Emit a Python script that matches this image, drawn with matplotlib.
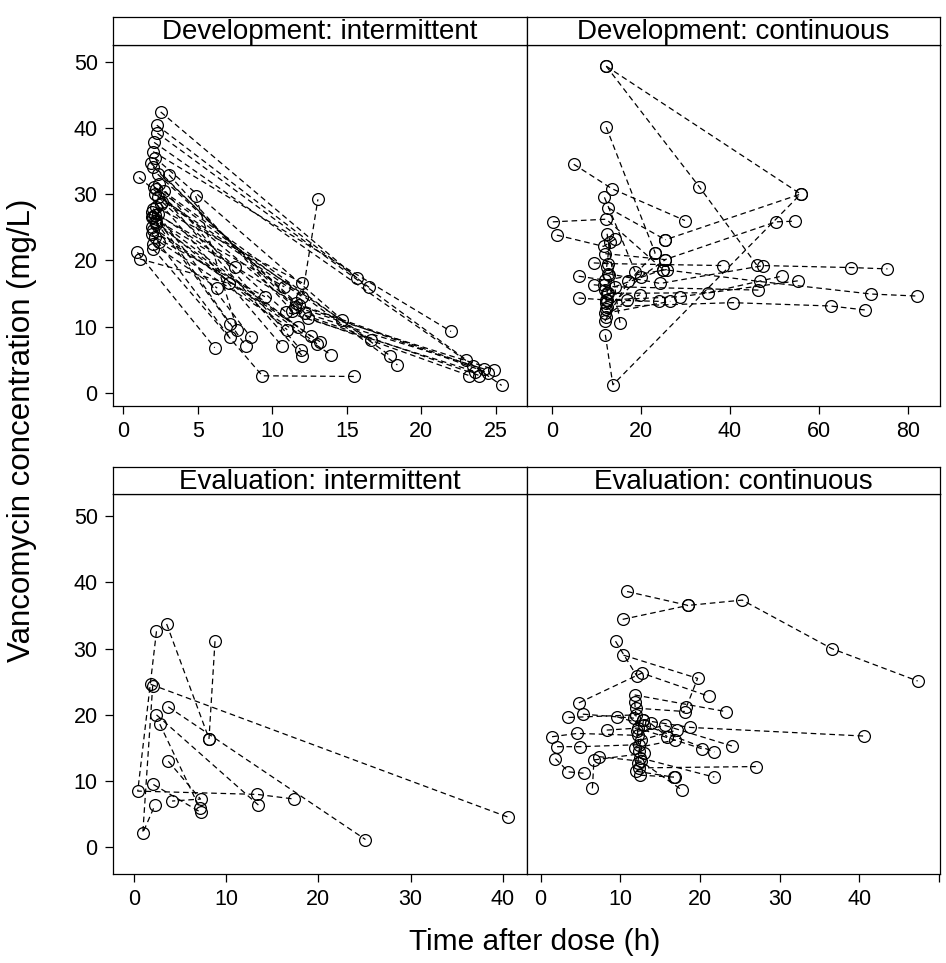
import matplotlib as mpl
import matplotlib.pyplot as plt

mpl.rcParams['font.family'] = ['Liberation Sans', 'DejaVu Sans']
mpl.rcParams['axes.linewidth'] = 0.9
mpl.rcParams['xtick.labelsize'] = 15.5
mpl.rcParams['ytick.labelsize'] = 15.5

# Development: intermittent  (one list per subject)
dev_int_time = [
    [2.5, 15.7], [2.24, 16.5], [2.28, 23.0], [2.06, 25.4], [2.0, 22.0], [2.1, 14.7],
    [1.83, 11.5, 24.9], [2.0, 12.2, 24.2], [3.06, 11.3, 23.9], [1.05, 12.4, 23.2],
    [2.06, 18.4], [2.7, 17.9], [2.1, 16.6], [2.3, 12.0, 13.06], [4.85, 7.65],
    [2.2, 12.0], [1.9, 10.8], [2.3, 7.47], [2.0, 11.7], [2.1, 11.0], [2.2, 12.6],
    [1.95, 13.0], [2.0, 13.2], [2.1, 9.5], [2.0, 6.3], [2.0, 9.33, 15.5],
    [0.94, 6.13], [1.1, 7.1], [2.4, 11.9], [2.2, 12.0], [2.5, 10.67], [2.0, 8.54],
    [2.1, 8.2], [2.2, 7.13], [1.9, 7.13], [2.4, 13.96], [2.3, 11.8, 24.5],
    [2.6, 10.9, 23.6], [1.9, 11.6, 23.5],
]
dev_int_conc = [
    [42.4, 17.3], [40.4, 15.9], [39.2, 5.0], [37.8, 1.1], [36.4, 9.25], [35.5, 11.0],
    [34.7, 13.0, 3.5], [34.1, 12.0, 3.6], [32.9, 12.4, 2.6], [32.5, 11.3, 2.6],
    [31.1, 4.2], [30.4, 5.6], [30.0, 8.0], [29.5, 14.5, 29.2], [29.7, 9.5],
    [28.0, 16.6], [27.3, 16.0], [27.0, 19.0], [26.5, 10.0], [26.0, 9.5], [25.5, 8.5],
    [25.0, 7.4], [24.5, 7.7], [23.5, 14.5], [22.4, 15.8], [21.7, 2.56, 2.46],
    [21.2, 6.8], [20.2, 16.5], [31.5, 6.5], [30.8, 5.6], [28.5, 7.0], [27.8, 8.4],
    [26.8, 7.1], [25.8, 10.4], [24.0, 8.4], [22.8, 5.7], [33.0, 13.2, 3.0],
    [28.8, 12.2, 3.2], [26.5, 13.5, 4.0],
]

# Development: continuous
dev_cont_time = [
    [12.2, 33.1, 46.0], [12.2, 55.9, 25.5], [12.0, 13.7, 55.9], [12.2, 23.2],
    [4.9, 13.5, 29.9], [11.8, 18.7], [12.7, 25.5], [0.2, 12.2, 25.0],
    [1.1, 11.6, 14.2], [12.4, 15.3], [6.0, 12.0, 25.8], [6.0, 12.3, 24.0],
    [9.4, 12.5, 38.5], [9.4, 14.2, 46.4], [12.0, 25.4, 50.3, 54.6],
    [12.5, 24.3, 47.5, 67.3, 75.4], [12.0, 25.0, 46.7, 71.8, 82.0],
    [12.3, 40.6, 62.6, 70.3], [12.1, 28.8, 55.3], [12.4, 35.1, 51.6],
    [12.0, 26.6], [11.9, 17.2, 23.2], [12.1, 16.9, 19.8], [12.2, 20.0, 25.5],
    [12.3, 13.0], [11.8, 12.5], [12.1, 12.9],
]
dev_cont_conc = [
    [49.3, 31.1, 19.3], [49.3, 30.0, 23.1], [8.75, 1.2, 30.0], [40.1, 21.1],
    [34.5, 30.8, 26.0], [29.5, 18.3], [27.9, 23.1], [25.8, 26.2, 18.6],
    [23.8, 22.1, 23.2], [24.0, 10.5], [17.6, 17.0, 18.6], [14.3, 14.0, 13.8],
    [19.6, 19.5, 19.2], [16.3, 16.0, 15.5], [21.0, 20.1, 25.8, 25.9],
    [18.0, 16.5, 19.2, 18.9, 18.7], [15.5, 18.6, 16.8, 14.9, 14.6],
    [13.0, 13.6, 13.1, 12.5], [14.0, 14.5, 16.9], [15.0, 15.1, 17.6],
    [12.0, 13.8], [10.8, 16.8, 21.1], [11.5, 14.0, 14.8], [12.6, 17.5, 20.1],
    [19.0, 22.8], [16.3, 15.0], [13.5, 17.8],
]

# Evaluation: intermittent
eval_int_time = [
    [1.83, 40.5], [8.8, 8.15], [3.56, 8.15], [2.46, 0.43, 13.4, 17.4],
    [3.74, 25.1], [2.46, 13.5], [2.82, 7.16], [3.74, 7.23, 4.15],
    [2.12, 7.26], [2.05, 0.98, 2.3],
]
eval_int_conc = [
    [24.6, 4.6], [31.1, 16.4], [33.7, 16.4], [32.6, 8.5, 8.0, 7.3],
    [21.2, 1.2], [20.0, 6.4], [18.6, 5.9], [13.0, 7.3, 7.0],
    [9.5, 5.3], [24.4, 2.2, 6.4],
]

# Evaluation: continuous
eval_cont_time = [
    [10.85, 18.5, 25.3, 36.5, 47.3], [10.3, 18.5], [9.4, 12.1], [10.4, 19.7, 18.3],
    [4.8, 12.7, 21.1], [11.8, 23.2], [12.8, 18.8, 40.6], [12.3, 27.0], [12.5, 21.8],
    [3.5, 12.0], [5.3, 11.7], [1.44, 4.6, 12.2], [2.07, 5.0, 12.4], [1.86, 3.5, 5.4],
    [6.5, 6.7, 13.0], [7.3, 12.6, 17.8], [8.3, 12.2, 20.2], [9.6, 13.0, 21.8],
    [12.1, 15.6, 24.0], [12.6, 17.1], [11.9, 16.9], [12.5, 16.9], [12.0, 18.1],
    [13.8, 15.9], [12.0, 16.7], [11.8, 12.4], [12.2, 12.9],
]
eval_cont_conc = [
    [38.6, 36.5, 37.3, 30.0, 25.1], [34.4, 36.5], [31.1, 25.8], [29.0, 25.5, 21.2],
    [21.8, 26.3, 22.8], [23.0, 20.5], [19.2, 18.1, 16.8], [12.0, 12.2], [13.5, 10.6],
    [19.6, 20.0], [20.1, 19.5], [16.7, 17.2, 16.9], [15.2, 15.2, 15.5], [13.4, 11.4, 11.2],
    [8.9, 13.2, 14.2], [13.7, 13.0, 8.6], [17.7, 18.0, 14.9], [19.7, 18.5, 14.4],
    [17.5, 18.4, 15.3], [16.2, 17.7], [15.0, 16.2], [10.9, 10.6], [21.0, 20.5],
    [18.7, 16.7], [11.5, 10.6], [22.0, 14.5], [12.8, 19.2],
]

W, H = 946.0, 963.0


def px_box(x0, y0, x1, y1):
    # pixel box (top-left origin) -> figure fraction rect
    return [x0 / W, 1 - y1 / H, (x1 - x0) / W, (y1 - y0) / H]


def draw_panel(fig, box, strip_box, title, times, concs, xlim, ylim, xticks, xlabels, left):
    ax = fig.add_axes(px_box(*box))
    for t, c in zip(times, concs):
        ax.plot(t, c, color='black', linestyle=(0, (4.5, 3)), linewidth=0.9,
                marker='o', markersize=8.5, markerfacecolor='none',
                markeredgecolor='black', markeredgewidth=0.9)
    ax.set_xlim(xlim)
    ax.set_ylim(ylim)
    ax.set_xticks(xticks)
    ax.set_xticklabels(xlabels)
    ax.set_yticks([0, 10, 20, 30, 40, 50])
    ax.tick_params(direction='out', length=6, width=0.9, pad=5)
    if not left:
        ax.tick_params(axis='y', left=False, labelleft=False)

    st = fig.add_axes(px_box(*strip_box))
    st.set_xticks([])
    st.set_yticks([])
    st.text(0.5, 0.45, title, ha='center', va='center', fontsize=20, transform=st.transAxes)
    return ax


fig = plt.figure(figsize=(9.46, 9.63), dpi=100)

top_y = (-2.0, 52.5)
bot_y = (-4.0, 53.3)

draw_panel(fig, (113, 45, 527, 406), (113, 17, 527, 45), 'Development: intermittent',
           dev_int_time, dev_int_conc, (-0.7, 27.1), top_y,
           [0, 5, 10, 15, 20, 25], ['0', '5', '10', '15', '20', '25'], True)
draw_panel(fig, (527, 45, 940, 406), (527, 17, 940, 45), 'Development: continuous',
           dev_cont_time, dev_cont_conc, (-5.6, 87.2), top_y,
           [0, 20, 40, 60, 80], ['0', '20', '40', '60', '80'], False)
draw_panel(fig, (113, 494, 527, 874), (113, 467, 527, 494), 'Evaluation: intermittent',
           eval_int_time, eval_int_conc, (-2.25, 42.6), bot_y,
           [0, 10, 20, 30, 40], ['0', '10', '20', '30', '40'], True)
draw_panel(fig, (527, 494, 940, 874), (527, 467, 940, 494), 'Evaluation: continuous',
           eval_cont_time, eval_cont_conc, (-1.7, 50.1), bot_y,
           [0, 10, 20, 30, 40, 50], ['0', '10', '20', '30', '40', ''], False)

fig.text(22 / W, 1 - 430 / H, 'Vancomycin concentration (mg/L)', rotation=90,
         ha='center', va='center', fontsize=22.5)
fig.text(535 / W, 1 - 942 / H, 'Time after dose (h)', ha='center', va='center', fontsize=21.5)

fig.savefig('out.png', dpi=100)
